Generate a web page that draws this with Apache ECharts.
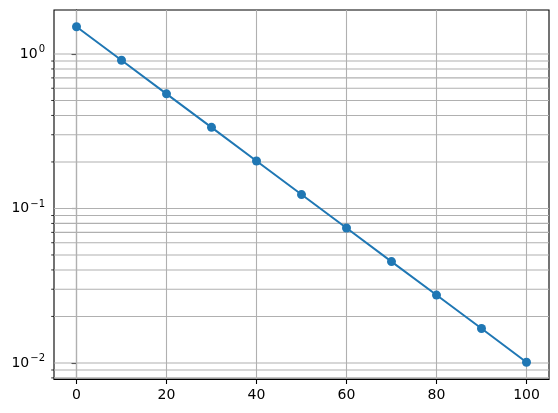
<!DOCTYPE html>
<html><head><meta charset="utf-8">
<script src="https://cdn.jsdelivr.net/npm/echarts@6/dist/echarts.min.js"></script>
<style>html,body{margin:0;padding:0;background:#fff}#c{width:558px;height:413px}</style>
</head><body><div id="c"></div>
<script>
const xValues = [0, 10, 20, 30, 40, 50, 60, 70, 80, 90, 100];
const yValues = [1.5, 0.91, 0.552, 0.335, 0.203, 0.123, 0.0747, 0.0453, 0.0275, 0.0167, 0.0101];
const xTicks = [0, 20, 40, 60, 80, 100];
const yTicks = [0.01, 0.1, 1];
const yMinorTicks = [0.008, 0.009, 0.02, 0.03, 0.04, 0.05, 0.06, 0.07, 0.08, 0.09, 0.2, 0.3, 0.4, 0.5, 0.6, 0.7, 0.8, 0.9];
const xRange = [-5, 105];
const yRange = [0.00787, 1.926];

const C = '#1f77b4';
const FONT = 'DejaVu Sans';
const chart = echarts.init(document.getElementById('c'), null, {renderer: 'canvas'});
const pts = xValues.map((x, i) => [x, yValues[i]]);

function supLabel(v) {
  const e = Math.round(Math.log10(v));
  const s = e < 0 ? '\u2212' + (-e) : String(e);
  return '10{sup|' + s + '}';
}

chart.setOption({
  animation: false,
  grid: {left: 54, right: 9, top: 10, bottom: 34, show: true, borderColor: '#000', borderWidth: 1.1, backgroundColor: '#fff'},
  xAxis: {
    type: 'value', min: xRange[0], max: xRange[1],
    axisLine: {lineStyle: {color: '#000', width: 1.1}},
    axisTick: {show: true, length: 5, lineStyle: {color: '#000', width: 1.1}, customValues: xTicks},
    axisLabel: {customValues: xTicks, color: '#000', fontFamily: FONT, fontSize: 14, margin: 9},
    splitLine: {show: false}
  },
  yAxis: {
    type: 'log', logBase: 10, min: yRange[0], max: yRange[1],
    axisLine: {show: true, lineStyle: {color: '#000', width: 1.1}},
    axisTick: {show: true, length: 5, lineStyle: {color: '#000', width: 1.1}, customValues: yTicks},
    axisLabel: {customValues: yTicks, color: '#000', fontFamily: FONT, fontSize: 14, margin: 9,
      formatter: supLabel,
      rich: {sup: {fontSize: 10, fontFamily: FONT, color: '#000', verticalAlign: 'top', padding: [0, 0, 9, 1]}}},
    splitLine: {show: false}
  },
  series: [
    {
      type: 'custom', silent: true, z: 1, clip: false,
      data: xTicks.map(v => [v]),
      renderItem: function (params, api) {
        const p0 = api.coord([api.value(0), yRange[0]]);
        const p1 = api.coord([api.value(0), yRange[1]]);
        return {type: 'line', shape: {x1: p0[0], y1: p0[1], x2: p1[0], y2: p1[1]}, style: {stroke: '#b0b0b0', lineWidth: 1.1}};
      },
      encode: {x: 0}
    },
    {
      type: 'custom', silent: true, z: 1, clip: false,
      data: yTicks.map(v => [xRange[0], v, 1]).concat(yMinorTicks.map(v => [xRange[0], v, 0])),
      renderItem: function (params, api) {
        const a = api.coord([xRange[0], api.value(1)]);
        const b = api.coord([xRange[1], api.value(1)]);
        const major = api.value(2) === 1;
        const children = [
          {type: 'line', shape: {x1: a[0], y1: a[1], x2: b[0], y2: b[1]}, style: {stroke: '#b0b0b0', lineWidth: 1.1}}
        ];
        if (!major) {
          children.push({type: 'line', shape: {x1: a[0] - 2.8, y1: a[1], x2: a[0], y2: a[1]}, style: {stroke: '#000', lineWidth: 0.8}});
        }
        return {type: 'group', children: children};
      },
      encode: {x: 0, y: 1}
    },
    {
      type: 'line', data: pts, z: 3,
      symbol: 'circle', symbolSize: 9, showSymbol: true,
      lineStyle: {color: C, width: 2},
      itemStyle: {color: C}
    }
  ]
});
</script></body></html>
